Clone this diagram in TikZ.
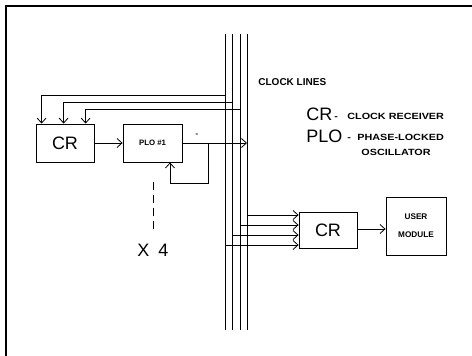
\documentclass[tikz,border=0pt]{standalone}
\usepackage{fontspec}
\setmainfont{Liberation Sans}
\newfontfamily\widefont[FakeStretch=1.2]{Liberation Sans}
\usetikzlibrary{arrows.meta,calc}
\begin{document}
\begin{tikzpicture}[x=1pt,y=-1pt,
  every path/.style={line width=0.8pt},
  arr/.style={-{Straight Barb[length=5pt,width=9pt,line width=0.8pt]}},
  box/.style={draw,line width=0.8pt,inner sep=0pt,anchor=center},
  big/.style={font=\fontsize{18}{18}\selectfont},
  small/.style={font=\fontsize{10}{11}\selectfont\bfseries},
  lbl/.style={font=\widefont\fontsize{9}{11}\selectfont\bfseries,inner sep=0pt,anchor=base west},
  tiny/.style={font=\fontsize{7.8}{10}\selectfont\bfseries}]
\useasboundingbox (0,0) rectangle (472,356);
% frame edges
\draw[line width=1.2pt] (6,356) -- (6,6) -- (472,6);
% clock lines
\foreach \x/\n in {225/a,232/b,240/c,247/d}{
  \coordinate (top\n) at (\x,34);
  \coordinate (bot\n) at (\x,330);
  \draw (top\n) -- (bot\n);
}
% boxes
\node[box,minimum width=58pt,minimum height=38pt,big] (cr1) at (65,143) {CR};
\node[box,minimum width=59pt,minimum height=38pt,tiny] (plo) at (152.5,143) {PLO \#1};
\node[box,minimum width=58pt,minimum height=36pt,big] (cr2) at (328,230) {CR};
\node[box,minimum width=60pt,minimum height=58pt,font=\fontsize{8.2}{10}\selectfont\bfseries,align=center] (um) at (416,226) {USER\\[8pt]MODULE};
% feedback from clock lines into CR
\coordinate (f1) at (225,95);
\coordinate (f2) at (232,102);
\coordinate (f3) at (240,109);
\draw[arr] (f1) -| ([xshift=6pt]cr1.north west);
\draw[arr] (f2) -| ([xshift=28pt]cr1.north west);
\draw[arr] (f3) -| ([xshift=50pt]cr1.north west);
% CR -> PLO
\draw[arr] (cr1.east) -- (plo.west);
% PLO output onto clock lines
\coordinate (po) at (247,143);
\coordinate (tap) at (208,143);
\draw[arr] (plo.east) -- (po);
\node[tiny] (mark) at (197,135) {-};
% PLO feedback loop
\coordinate (lp1) at (208,183);
\coordinate (lp2) at (170,183);
\draw[arr] (tap) -- (lp1) -- (lp2) -- (lp2 |- plo.south);
% dashed replication marker
\coordinate (d1) at (153,182);
\coordinate (d2) at (153,233);
\draw[dashed,dash pattern=on 8pt off 5pt] (d1) -- (d2);
\node[big] (x4) at (153,250) {X\hspace{9pt}4};
% clock lines to second CR
\coordinate (k1) at (247,215);
\coordinate (k2) at (240,225);
\coordinate (k3) at (232,235);
\coordinate (k4) at (225,245);
\foreach \k in {k1,k2,k3,k4}{
  \draw[arr] (\k) -- (\k -| cr2.west);
}
% CR -> user module
\coordinate (o2) at (357,229);
\draw[arr] (o2) -- (o2 -| um.west);
% labels
\node[small,inner sep=0pt,anchor=base west] (cl) at (258,85) {CLOCK LINES};
\node[big,inner sep=0pt,anchor=base west] (crl) at (306,120) {CR};
\node[lbl] (crd) at (334,119) {-};
\node[lbl] (crt) at (347,119) {CLOCK RECEIVER};
\node[big,inner sep=0pt,anchor=base west] (plol) at (306,142) {PLO};
\node[lbl] (plod) at (347,140) {-};
\node[lbl] (plot) at (357,140) {PHASE-LOCKED};
\node[lbl] (osc) at (361,155) {OSCILLATOR};
\end{tikzpicture}
\end{document}
